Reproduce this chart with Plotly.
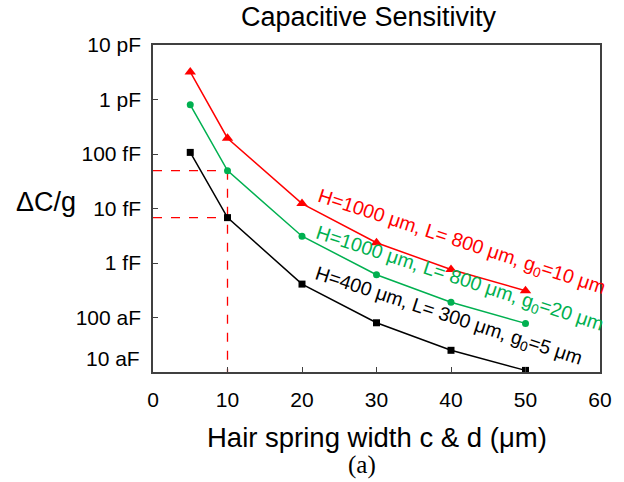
import plotly.graph_objects as go

# Hair spring width (µm)
width_um = [5, 10, 20, 30, 40, 50]

# Capacitive sensitivity ΔC/g (F/g) for the three geometries
dc_h1000_g10 = [3.2e-12, 1.95e-13, 1.23e-14, 2.35e-15, 7.6e-16, 3.1e-16]
dc_h1000_g20 = [8.0e-13, 4.95e-14, 3.1e-15, 6.1e-16, 1.9e-16, 7.8e-17]
dc_h400_g5 = [1.07e-13, 6.8e-15, 4.1e-16, 8.0e-17, 2.5e-17, 1.07e-17]

series_labels = [
    "H=1000 μm, L= 800 μm, g<sub>0</sub>=10 μm",
    "H=1000 μm, L= 800 μm, g<sub>0</sub>=20 μm",
    "H=400 μm, L= 300 μm, g<sub>0</sub>=5 μm",
]

y_tickvals = [1e-11, 1e-12, 1e-13, 1e-14, 1e-15, 1e-16, 1e-17]
y_ticktext = ["10 pF", "1 pF", "100 fF", "10 fF", "1 fF", "100 aF", ""]
x_tickvals = [0, 10, 20, 30, 40, 50, 60]

RED = "#FF0000"
GREEN = "#00B050"
BLACK = "#000000"
FONT = "Liberation Sans, Arial, sans-serif"
SERIF = "Liberation Serif, Times New Roman, serif"

fig = go.Figure()

# Red dashed guide lines marking the 10 µm design point
guide_x = width_um[1]
for yv in (dc_h1000_g20[1], dc_h400_g5[1]):
    fig.add_trace(go.Scatter(
        x=[0, guide_x], y=[yv, yv], mode="lines",
        line=dict(color=RED, width=1.3, dash="dash"),
        hoverinfo="skip", showlegend=False))
fig.add_trace(go.Scatter(
    x=[guide_x, guide_x], y=[dc_h1000_g20[1], 1e-17], mode="lines",
    line=dict(color=RED, width=1.3, dash="dash"),
    hoverinfo="skip", showlegend=False))

fig.add_trace(go.Scatter(
    x=width_um, y=dc_h1000_g10, mode="lines+markers", name=series_labels[0],
    line=dict(color=RED, width=1.5),
    marker=dict(symbol="triangle-up", size=10, color=RED)))
fig.add_trace(go.Scatter(
    x=width_um, y=dc_h1000_g20, mode="lines+markers", name=series_labels[1],
    line=dict(color=GREEN, width=1.5),
    marker=dict(symbol="circle", size=7, color=GREEN)))
fig.add_trace(go.Scatter(
    x=width_um, y=dc_h400_g5, mode="lines+markers", name=series_labels[2],
    line=dict(color=BLACK, width=1.5),
    marker=dict(symbol="square", size=7, color=BLACK)))

annotations = [
    dict(text="Capacitive Sensitivity", xref="paper", yref="paper",
         x=0.4836, y=1.0, yshift=28, showarrow=False, yanchor="middle",
         font=dict(size=27, color=BLACK, family=FONT)),
    dict(text="ΔC/g", xref="paper", yref="paper", x=0, xshift=-107,
         y=0.52, showarrow=False, xanchor="center", yanchor="middle",
         font=dict(size=27, color=BLACK, family=FONT)),
    dict(text="Hair spring width c & d (μm)", xref="paper", yref="paper",
         x=0.501, y=0, yshift=-65, showarrow=False, yanchor="middle",
         font=dict(size=27.5, color=BLACK, family=FONT)),
    dict(text="(a)", xref="paper", yref="paper",
         x=0.468, y=0, yshift=-93, showarrow=False, yanchor="middle",
         font=dict(size=25, color=BLACK, family=SERIF)),
    dict(text="10 aF", xref="paper", yref="paper", x=0, xshift=-11,
         y=0, yshift=14, showarrow=False, xanchor="right", yanchor="middle",
         font=dict(size=21, color=BLACK, family=FONT)),
    # Curve labels, rotated along each series
    dict(text=series_labels[0], x=41.4, y=-14.63, xref="x", yref="y",
         showarrow=False, textangle=18,
         font=dict(size=19.5, color=RED, family=FONT)),
    dict(text=series_labels[1], x=41.2, y=-15.31, xref="x", yref="y",
         showarrow=False, textangle=18,
         font=dict(size=19.5, color=GREEN, family=FONT)),
    dict(text=series_labels[2], x=39.6, y=-15.98, xref="x", yref="y",
         showarrow=False, textangle=18,
         font=dict(size=19.5, color=BLACK, family=FONT)),
]

fig.update_layout(
    width=624, height=482,
    margin=dict(l=153, r=14, t=45, b=110),
    paper_bgcolor="white", plot_bgcolor="white",
    showlegend=False,
    font=dict(family=FONT, size=21, color=BLACK),
    annotations=annotations,
)
fig.update_xaxes(
    range=[0, 60], tickvals=x_tickvals, ticks="inside", ticklen=5,
    tickcolor="#404040", showgrid=False, zeroline=False,
    showline=True, linecolor="#404040", linewidth=1.5, mirror=True,
    ticklabelstandoff=8, tickfont=dict(size=21, color=BLACK))
fig.update_yaxes(
    type="log", range=[-17, -11], tickvals=y_tickvals, ticktext=y_ticktext,
    ticks="inside", ticklen=5, tickcolor="#404040", showgrid=False,
    zeroline=False, showline=True, linecolor="#404040", linewidth=1.5,
    mirror=True, ticklabelstandoff=6, tickfont=dict(size=21, color=BLACK))

fig.write_html("out.html")
